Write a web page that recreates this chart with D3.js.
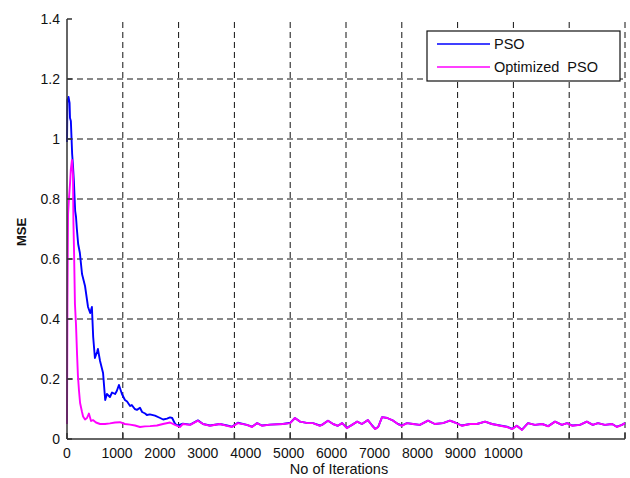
<!DOCTYPE html>
<html>
<head>
<meta charset="utf-8">
<script src="https://cdn.jsdelivr.net/npm/d3@7"></script>
<style>
    body { margin: 0; background: #fff; overflow: hidden; }
    svg { display: block; }
    text { font-family: "Liberation Sans", Arial, sans-serif; fill: #111; }
</style>
</head>
<body>
<script>
// --- data ---
// PSO (blue)
const psoIter = [0, 10, 35, 60, 70, 90, 120, 140, 160, 190, 210, 230, 260, 300, 350, 420, 470, 490, 540, 580,
    610, 650, 700, 720, 770, 840, 890, 930, 1000, 1050, 1120, 1160, 1210, 1280, 1350, 1400, 1470, 1510, 1580, 1630,
    1700, 1750, 1820, 1860, 1930, 2050, 2170, 2240, 2330, 2400, 2450, 2520, 2590,
    2700, 2870, 3050, 3170, 3330, 3560, 3730, 3840, 3980, 4190, 4310, 4430, 4540, 4730, 5030, 5200, 5310, 5430,
    5610, 5730, 5890, 5940, 6080, 6200, 6310, 6410, 6520, 6640, 6760, 6870, 7010, 7110, 7180, 7250, 7340, 7460,
    7600, 7710, 7800, 7920, 8060, 8220, 8410, 8570, 8760, 8920, 9040, 9200, 9390, 9550, 9740, 9900, 10090, 10250,
    10370, 10480, 10600, 10740, 10900, 11070, 11210, 11370, 11530, 11650, 11770, 11950, 12110, 12250, 12370,
    12530, 12700, 12810, 12930, 13000];
const psoMse = [0.99, 1.13, 1.14, 1.12, 1.07, 1.06, 0.95, 0.91, 0.86, 0.76, 0.74, 0.70, 0.65, 0.62, 0.55, 0.51, 0.46, 0.44, 0.42, 0.44,
    0.34, 0.27, 0.29, 0.30, 0.26, 0.22, 0.13, 0.15, 0.14, 0.155, 0.15, 0.16, 0.18, 0.15, 0.13, 0.125, 0.11, 0.113, 0.10, 0.097,
    0.104, 0.09, 0.085, 0.08, 0.082, 0.078, 0.07, 0.065, 0.068, 0.072, 0.07, 0.05, 0.045,
    0.051, 0.048, 0.062, 0.05, 0.045, 0.05, 0.045, 0.041, 0.054, 0.047, 0.041, 0.053, 0.045, 0.048, 0.05, 0.054, 0.07, 0.058,
    0.053, 0.053, 0.045, 0.047, 0.061, 0.05, 0.044, 0.053, 0.037, 0.047, 0.058, 0.05, 0.063, 0.045, 0.034, 0.04, 0.073, 0.07,
    0.061, 0.05, 0.045, 0.053, 0.05, 0.047, 0.061, 0.05, 0.053, 0.061, 0.055, 0.045, 0.05, 0.05, 0.058, 0.05, 0.045, 0.041,
    0.034, 0.044, 0.031, 0.053, 0.047, 0.05, 0.043, 0.058, 0.047, 0.053, 0.045, 0.047, 0.058, 0.047, 0.053,
    0.047, 0.05, 0.041, 0.047, 0.053];

// Optimized PSO (magenta)
const optIter = [0, 10, 25, 45, 70, 90, 115, 140, 150, 165, 185, 210, 235, 255, 280, 305, 350, 375, 420, 465,
    510, 560, 605, 675, 770, 885, 1000, 1120, 1235, 1350, 1470, 1585, 1700, 1815, 1935, 2095, 2235, 2400, 2515, 2630,
    2700, 2870, 3050, 3170, 3330, 3560, 3730, 3840, 3980, 4190, 4310, 4430, 4540, 4730, 5030, 5200, 5310, 5430,
    5610, 5730, 5890, 5940, 6080, 6200, 6310, 6410, 6520, 6640, 6760, 6870, 7010, 7110, 7180, 7250, 7340, 7460,
    7600, 7710, 7800, 7920, 8060, 8220, 8410, 8570, 8760, 8920, 9040, 9200, 9390, 9550, 9740, 9900, 10090, 10250,
    10370, 10480, 10600, 10740, 10900, 11070, 11210, 11370, 11530, 11650, 11770, 11950, 12110, 12250, 12370,
    12530, 12700, 12810, 12930, 13000];
const optMse = [0.05, 0.45, 0.75, 0.80, 0.85, 0.90, 0.93, 0.88, 0.72, 0.62, 0.45, 0.38, 0.28, 0.21, 0.16, 0.12, 0.09, 0.075, 0.065, 0.07,
    0.085, 0.06, 0.063, 0.055, 0.05, 0.05, 0.052, 0.055, 0.056, 0.05, 0.048, 0.045, 0.04, 0.042, 0.043, 0.045, 0.05, 0.055, 0.047, 0.04,
    0.05, 0.047, 0.061, 0.05, 0.044, 0.05, 0.044, 0.04, 0.053, 0.047, 0.04, 0.053, 0.044, 0.048, 0.05, 0.053, 0.07, 0.058,
    0.053, 0.053, 0.044, 0.047, 0.061, 0.05, 0.044, 0.053, 0.036, 0.047, 0.058, 0.05, 0.063, 0.044, 0.033, 0.04, 0.073, 0.07,
    0.061, 0.05, 0.044, 0.053, 0.05, 0.047, 0.061, 0.05, 0.053, 0.061, 0.055, 0.044, 0.05, 0.05, 0.058, 0.05, 0.044, 0.04,
    0.033, 0.044, 0.03, 0.053, 0.047, 0.05, 0.042, 0.058, 0.047, 0.053, 0.044, 0.047, 0.058, 0.047, 0.053,
    0.047, 0.05, 0.04, 0.047, 0.053];

// ticks
const yTicks = [0, 0.2, 0.4, 0.6, 0.8, 1, 1.2, 1.4];
const xGrid = d3.range(0, 13001, 1300);
const xLabels = [0, 1000, 2000, 3000, 4000, 5000, 6000, 7000, 8000, 9000, 10000];
const labelShift = 165; // the labels sit a bit off the grid in the original

const seriesNames = ['PSO', 'Optimized  PSO'];
const seriesColors = ['#0000ff', '#ff00ff'];

// --- svg ---
const width = 630, height = 478;
const margin = { top: 19, right: 5, bottom: 39, left: 67 };
const innerWidth = width - margin.left - margin.right;
const innerHeight = height - margin.top - margin.bottom;

const svg = d3.select('body').append('svg')
    .attr('width', width)
    .attr('height', height);

const g = svg.append('g')
    .attr('transform', `translate(${margin.left},${margin.top})`);

const xScale = d3.scaleLinear().domain([0, 13000]).range([0, innerWidth]);
const yScale = d3.scaleLinear().domain([0, 1.4]).range([innerHeight, 0]);

// grid (dashed)
g.selectAll('.hgrid')
    .data(yTicks.filter(d => d > 0 && d < 1.4))
    .enter().append('line')
    .attr('x1', 0).attr('x2', innerWidth)
    .attr('y1', d => yScale(d)).attr('y2', d => yScale(d))
    .attr('stroke', '#111').attr('stroke-width', 1)
    .attr('stroke-dasharray', '6,4');

g.selectAll('.vgrid')
    .data(xGrid.filter(d => d > 0))
    .enter().append('line')
    .attr('x1', d => xScale(d)).attr('x2', d => xScale(d))
    .attr('y1', 3).attr('y2', innerHeight)
    .attr('stroke', '#111').attr('stroke-width', 1)
    .attr('stroke-dasharray', '6,4');

// lines
const line = d3.line()
    .x(d => xScale(d[0]))
    .y(d => yScale(d[1]));

const series = [
    psoIter.map((x, i) => [x, psoMse[i]]),
    optIter.map((x, i) => [x, optMse[i]])
];

g.selectAll('.series')
    .data(series)
    .enter().append('path')
    .attr('d', line)
    .attr('fill', 'none')
    .attr('stroke', (d, i) => seriesColors[i])
    .attr('stroke-width', 1.9)
    .attr('stroke-linejoin', 'round');

// axes (no box, ticks inside)
g.append('line')
    .attr('x1', 0).attr('x2', 0).attr('y1', 0).attr('y2', innerHeight)
    .attr('stroke', '#333').attr('stroke-width', 1.5);
g.append('line')
    .attr('x1', 0).attr('x2', innerWidth).attr('y1', innerHeight).attr('y2', innerHeight)
    .attr('stroke', '#333').attr('stroke-width', 1.5);

g.selectAll('.ytick')
    .data(yTicks)
    .enter().append('line')
    .attr('x1', 0).attr('x2', 5)
    .attr('y1', d => yScale(d)).attr('y2', d => yScale(d))
    .attr('stroke', '#333').attr('stroke-width', 1.5);

g.selectAll('.xtick')
    .data(xGrid)
    .enter().append('line')
    .attr('x1', d => xScale(d)).attr('x2', d => xScale(d))
    .attr('y1', innerHeight).attr('y2', innerHeight - 6)
    .attr('stroke', '#333').attr('stroke-width', 1.5);

g.selectAll('.ylabel')
    .data(yTicks)
    .enter().append('text')
    .attr('x', -7)
    .attr('y', d => yScale(d))
    .attr('dy', '0.36em')
    .attr('text-anchor', 'end')
    .style('font-size', '14px')
    .text(d => d3.format('~g')(d));

g.selectAll('.xlabel')
    .data(xLabels)
    .enter().append('text')
    .attr('x', d => d === 0 ? xScale(0) : xScale(d + labelShift))
    .attr('y', innerHeight + 19)
    .attr('text-anchor', 'middle')
    .style('font-size', '14px')
    .text(d => d);

// axis titles
svg.append('text')
    .attr('x', 339)
    .attr('y', 474)
    .attr('text-anchor', 'middle')
    .style('font-size', '14.5px')
    .text('No of Iterations');

svg.append('text')
    .attr('transform', 'translate(26,232) rotate(-90)')
    .attr('text-anchor', 'middle')
    .style('font-size', '13px')
    .style('font-weight', 'bold')
    .text('MSE');

// legend
const legend = svg.append('g').attr('transform', 'translate(427,31)');
legend.append('rect')
    .attr('width', 193).attr('height', 50)
    .attr('fill', '#fff').attr('stroke', '#111').attr('stroke-width', 1.2);

const entry = legend.selectAll('.entry')
    .data(seriesNames)
    .enter().append('g')
    .attr('transform', (d, i) => `translate(0,${13 + i * 23})`);

entry.append('line')
    .attr('x1', 10).attr('x2', 63)
    .attr('stroke', (d, i) => seriesColors[i])
    .attr('stroke-width', 1.5);

entry.append('text')
    .attr('x', 67)
    .attr('dy', '0.36em')
    .style('font-size', '14.5px')
    .style('white-space', 'pre')
    .text(d => d);
</script>
</body>
</html>
